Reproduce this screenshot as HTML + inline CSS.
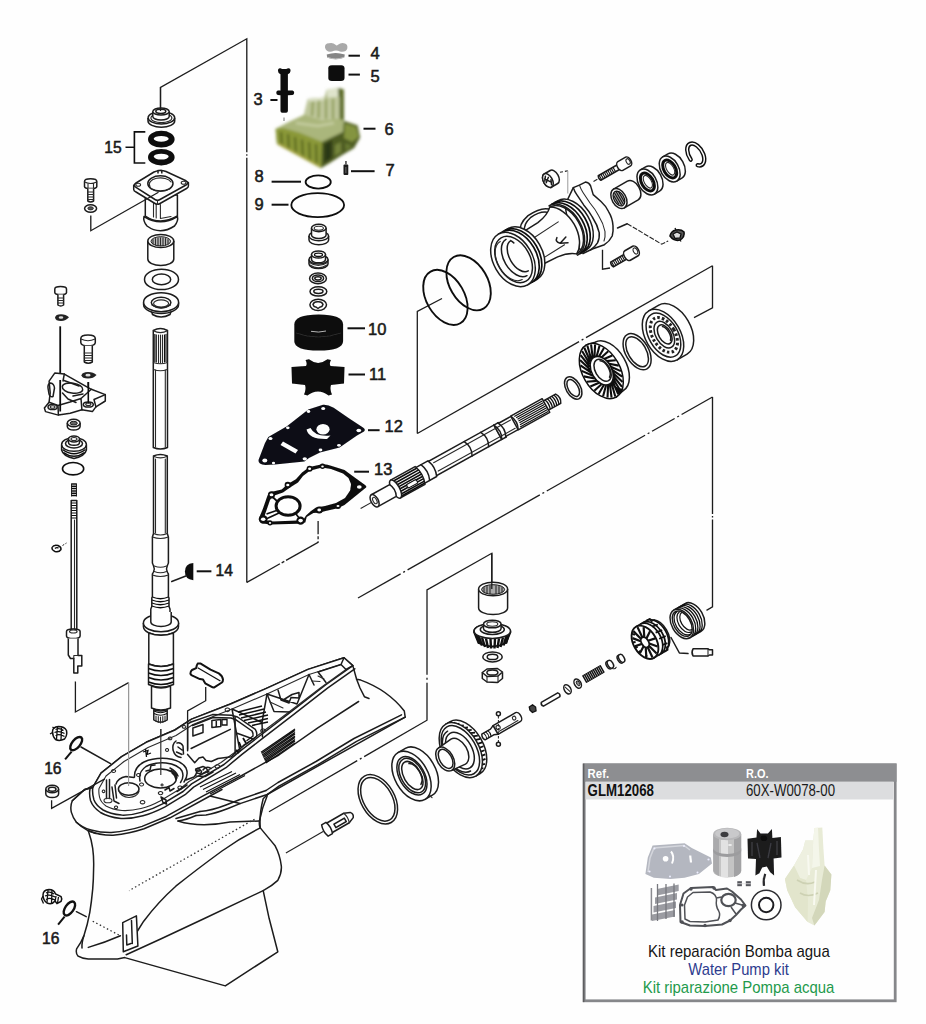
<!DOCTYPE html>
<html><head><meta charset="utf-8">
<style>
html,body{margin:0;padding:0;background:#fefefe;}
body{width:926px;height:1024px;overflow:hidden;position:relative;font-family:"Liberation Sans",sans-serif;}
svg{position:absolute;left:0;top:0;}
.l{fill:none;stroke:#1c1c1c;stroke-width:1.5;stroke-linecap:round;stroke-linejoin:round;}
.t{fill:none;stroke:#2a2a2a;stroke-width:1.1;stroke-linecap:round;stroke-linejoin:round;}
.w{fill:#fefefe;stroke:#1c1c1c;stroke-width:1.5;stroke-linejoin:round;}
.k{fill:#0a0a0a;stroke:none;}
.lab{font-family:"Liberation Sans",sans-serif;font-weight:normal;font-size:16.5px;fill:#1a1a1a;stroke:#1a1a1a;stroke-width:0.55px;}
.lab2{font-size:15.6px;}
.dash{fill:none;stroke:#111;stroke-width:2;}
.br{fill:none;stroke:#1c1c1c;stroke-width:1.3;stroke-linejoin:miter;}
</style></head><body>
<svg width="926" height="1024" viewBox="0 0 926 1024">
<defs>
<filter id="b1" x="-10%" y="-10%" width="120%" height="120%"><feGaussianBlur stdDeviation="1.5"/></filter>
<filter id="soft" x="0" y="0" width="100%" height="100%" filterUnits="userSpaceOnUse"><feGaussianBlur stdDeviation="0.33"/></filter>
<filter id="b05" x="-10%" y="-10%" width="120%" height="120%"><feGaussianBlur stdDeviation="0.6"/></filter>
</defs>
<g filter="url(#soft)">
<!-- BRACKETS -->
<g id="brackets">
<path class="br" d="M160.5 112V87.4L246.8 38.8V582.4" stroke-dasharray="237 2 1.500 2 1000"/>
<path class="br" d="M246.8 582.4L318.1 542.4V521" stroke-dasharray="38 2 3 2"/>
<path class="br" d="M442 298.5L417.3 311.400V433.500"/>
<path class="br" d="M417.300 433.500L712.500 265.800" stroke-dasharray="186 3 2 3 400"/>
<path class="br" d="M712.500 265.800V307.900L694 317.600"/>
<path class="br" d="M358 598L712.500 397" stroke-dasharray="49 3 2 3 152 3 2 3 113 3 2 3 26 3 2 3 100"/>
<path class="br" d="M712.500 397V606.800L706.500 610.400" stroke-dasharray="117 2 1.500 2 300"/>
<path class="br" d="M491.8 585V553.3L427 590V720.2L269 811.8" stroke-dasharray="191 3 2 3 110 3 2 3 400"/>
</g>
<!--PUMP COLUMN-->
<g id="pump">
<!--4 nut gray-->
<g filter="url(#b05)">
<path d="M325 47.500 Q324.500 43.500 329 43.300 Q333 42.300 335.500 44.800 Q336.500 46 338 44.800 Q341 42.300 345 43.500 Q348 44.500 347.300 48.500 Q346 52.500 340 51.500 Q336 49.500 332 51.500 Q326 52.500 325 47.500Z" fill="#a9a9a9"/>
<path d="M326.700 54.500 Q335.500 51.500 344.800 54.500 L344.300 57.500 Q335.500 61 327.200 57.500Z" fill="#858585"/>
<path d="M327.500 57.300 Q335.500 60.500 344 57.300" fill="none" stroke="#c0c0c0" stroke-width="1"/>
</g>
<!--5 black-->
<rect x="328.3" y="65.3" width="16.2" height="15.8" rx="3.500" ry="3" class="k"/>
<!--3 bolt-->
<path class="k" d="M278 71 Q277.800 68 280.300 68.200 L282.200 69 L286.200 69 L288.200 68.200 Q290.700 68 290.500 71 Q290.300 73.800 287.900 74.200 L287.900 90.400 L292.500 90.600 Q294.200 91 294.200 92.800 Q294.200 94.800 292.500 95.100 L287.900 95.300 L287.900 111 Q287.900 112.700 286 112.700 L282.200 112.700 Q280.500 112.700 280.500 111 L280.500 95.300 L277.800 95.100 Q276.300 94.700 276.300 92.800 Q276.300 91 277.800 90.600 L280.500 90.400 L280.500 74.200 Q278.200 73.800 278 71Z"/>
<path d="M284 117.500V121" stroke="#555" stroke-width="0.800"/>
<!--6 housing green-->
<g filter="url(#b1)">
<path d="M275.600 129 L290 121.500 L304 115 L308 99 L325 97.500 L326.500 90 L338 88 L343.800 89.500 L344 121 L357.500 125.500 L360 137.500 L354 148 L342 155 L329.500 163 L321 168 L277 144Z" fill="#8a9a44"/>
<!-- tower -->
<path d="M326.500 90 L338 88 L339.500 97 L327 99Z" fill="#dfe4cc"/>
<path d="M338 88 L343.800 89.500 L344 121 L339.300 118Z" fill="#5d6d2a"/>
<path d="M308 99 L325 97.500 L339.500 97 L339.500 119 L322 121 L310 117 L304 115Z" fill="#bfc79c"/>
<path d="M313 100 L312 116 M319 99 L318.500 118 M326 99 L326 119 M333 98.500 L333 119" stroke="#8e9d55" stroke-width="2.200" fill="none"/>
<path d="M309 100.500 L324 99" stroke="#e3e8d0" stroke-width="2"/>
<!-- upper surface of base -->
<path d="M290 121.500 L304 115 L310 117 L322 121 L339.500 119 L344 121 L343 132 L322 142 L300 133 L283 128 L275.600 129Z" fill="#aab67c"/>
<path d="M296 123 L318 126 L334 123" stroke="#c5cda0" stroke-width="2.500" fill="none"/>
<!-- front face -->
<path d="M275.600 129 L283 128 L300 133 L322 142 L321 168 L277 144Z" fill="#8b9938"/>
<path d="M281 132 L282 146 M288 134 L289 150 M295 137 L296 154 M302 139.500 L303 158 M309 142 L310 161 M316 144 L316.500 164" stroke="#5c6b22" stroke-width="2.400" fill="none"/>
<path d="M278 143.500 L320 166.500" stroke="#a5a542" stroke-width="2" fill="none"/>
<!-- right side -->
<path d="M322 142 L343 132 L344 121 L357.500 125.500 L360 137.500 L354 148 L342 155 L329.500 163 L321 168Z" fill="#4d5c22"/>
<path d="M345 123.500 L356 127 L358.500 137 L352 142 L344 138Z" fill="#84943f"/>
<path d="M324 144 L332 140 L332 158 L324 163Z" fill="#2c3812"/>
<path d="M335 145 L341 142 L341 152 L335 156Z" fill="#74843a"/>
<path d="M345 143 L352 146 L346 151Z" fill="#697a32"/>
</g>
<!--7 pin-->
<rect x="343.500" y="164.500" width="4.800" height="10.500" rx="1" fill="#1a1a1a"/>
<rect x="345.300" y="161" width="1.300" height="3.500" fill="#222"/>
<rect x="345.300" y="167" width="1.100" height="6" fill="#666"/>
<!--8,9 orings-->
<ellipse cx="318.2" cy="182" rx="12.600" ry="6.600" fill="none" stroke="#111" stroke-width="1.800"/>
<ellipse cx="317.7" cy="205.1" rx="26.400" ry="12" fill="none" stroke="#111" stroke-width="1.800"/>
<!--bushing1-->
<g stroke-width="1.900">
<path class="w" d="M309 236 V240 A9.800 4.800 0 0 0 328.600 240 V236" stroke-width="1.900"/>
<ellipse class="w" cx="318.8" cy="236" rx="9.800" ry="4.800" stroke-width="1.900"/>
<path class="w" d="M311.500 228 V235 A7.300 3.500 0 0 0 326.100 235 V228" stroke-width="1.900"/>
<ellipse class="w" cx="318.8" cy="228" rx="7.300" ry="3.700" stroke-width="1.900"/>
<ellipse class="t" cx="318.8" cy="228.300" rx="4.600" ry="2" stroke-width="1.400"/>
</g>
<!--bushing2-->
<g>
<path class="w" d="M309 259.500 V264 A9.500 4.600 0 0 0 328 264 V259.500" stroke-width="2.200"/>
<ellipse class="w" cx="318.5" cy="259.500" rx="9.500" ry="4.600" stroke-width="2.200"/>
<path class="w" d="M311.500 254.500 V259.500 A7 3.300 0 0 0 325.500 259.500 V254.500" stroke-width="2"/>
<ellipse class="w" cx="318.500" cy="254.500" rx="7" ry="3.600" stroke-width="2.200"/>
<ellipse cx="318.500" cy="254.800" rx="4" ry="1.700" fill="#fefefe" stroke="#111" stroke-width="1.300"/>
<path class="t" d="M309.500 262.500 Q318 268.500 327.500 262.500 M310 265 Q318 270.500 327 265" stroke-width="1.700"/>
</g>
<!--washers-->
<ellipse class="w" cx="318" cy="278.400" rx="8.400" ry="5.300" stroke-width="1.800"/><ellipse class="w" cx="318" cy="278.300" rx="5.600" ry="3.300" stroke-width="1.300"/><ellipse class="w" cx="318" cy="278.300" rx="3.200" ry="1.600" stroke-width="1.200"/>
<ellipse class="w" cx="318.400" cy="291.400" rx="8.400" ry="4.700" stroke-width="2.200"/><ellipse class="w" cx="318.400" cy="291.300" rx="4.600" ry="2.100" stroke-width="1.800"/>
<ellipse class="w" cx="318.200" cy="304.800" rx="8.300" ry="5.600" stroke-width="2.200"/><path class="w" d="M313 304.500 Q314 301.500 318 301.800 Q322 301.500 323 304.500 Q322 307.500 320 307 L318 308.500 L316 307 Q314 307.500 313 304.500Z" stroke-width="1.700"/>
<!--10 cup black-->
<path class="k" d="M294.300 324.500 Q294.300 314.500 318.700 314.500 Q343.100 314.500 343.100 324.500 L343.100 341 Q343.100 350.600 318.700 350.600 Q294.300 350.600 294.300 341Z"/>
<path d="M311 331.300 Q318.500 333 326 331" stroke="#c8c8c8" stroke-width="0.900" fill="none"/>
<path d="M296 333 Q318 341 341 333" stroke="#2c2c2c" stroke-width="1" fill="none"/>
<!--11 impeller-->
<path class="k" d="M291.500 367 L306 366 Q307.500 363.500 305.500 360 L309 359.300 Q318 366.500 327.500 359.300 L331 360 Q329 363.500 330.500 366 L344.500 367 L344 383.500 L331 385 Q329.500 389 332 394.500 L328.500 395.500 Q318 387.500 307.500 395.500 L304 394.500 Q306.500 389 305 385 L292 383.500Z"/>
<!--12 plate-->
<path fill="#0a0c14" d="M323 404.800 Q327.500 404.300 333.700 407.700 L349.300 418.400 L363 427.500 Q366 429.500 364 431.500 L357 435.500 L339.600 447.500 L320 452.500 L309 458 L304.400 461.500 L275 464.500 L265.400 465 Q258 464.500 258.500 460 L265 443 L268.300 437 L286.900 426.200 L308.300 409.600Z"/>
<g fill="#fefefe">
<ellipse cx="323.200" cy="408.500" rx="2" ry="1.500"/><ellipse cx="308.500" cy="411.500" rx="1.800" ry="1.400"/><ellipse cx="287.800" cy="427.800" rx="1.800" ry="1.400"/><ellipse cx="270.500" cy="438.500" rx="2" ry="1.500"/><ellipse cx="264.800" cy="460.500" rx="2.500" ry="1.900"/><ellipse cx="273.500" cy="463" rx="1.600" ry="1.200"/><ellipse cx="304.800" cy="458.800" rx="2.200" ry="1.600"/><ellipse cx="320.500" cy="450" rx="1.900" ry="1.400"/><ellipse cx="339" cy="445.300" rx="1.900" ry="1.400"/><ellipse cx="358.800" cy="430.500" rx="2.400" ry="1.800"/>
<ellipse cx="323" cy="429.300" rx="6.600" ry="5.300"/>
<path d="M306.500 429.500 Q309 439.500 327 439 L330.500 435.500 Q315 437 310.500 428Z"/>
<path d="M283 441.500 L298 450 L295.500 453.500 L280.500 445Z"/>
</g>
<!--13 gasket-->
<path d="M322.200 464.200 Q327 463.800 331 465.800 L344.500 469.900 L349.900 473.900 L364.700 484.700 Q367 486.200 366.100 487.400 L344.500 505 L337.700 508.300 L325.600 511 L320.200 512.400 L313.400 513 L306.700 517.100 L305.300 522.500 L298.600 523.800 L270.200 524.500 L261.500 523.200 Q258 521 258.800 518.400 L262.800 509 L267.500 495.500 L270.900 492.100 L281.700 489.400 L287.800 484 L295.900 479.300 L302 472.500 L309.400 467.100Z
M309.800 470.700 L322 467.600 L331 469 L343 473.500 L348.500 478 L351 484 L350.500 490 L345 498 L336 503 L325 506 L316 507.500 L311 511 L306 515.500 L303.500 519.500 L298 520.500 L272 521.500 L266 520 L264.500 516 L270 500 L273 496 L283 492.500 L290 487.500 L298 482.500 L303 476Z" fill="#0c0c0c" fill-rule="evenodd"/>
<path d="M352 477.500 L364.500 486.500 L346 501.500 L350.500 490 Z" fill="#0c0c0c"/>
<g fill="#0c0c0c"><circle cx="309.600" cy="468.700" r="3"/><circle cx="322.500" cy="466.300" r="2.700"/><circle cx="287.800" cy="485" r="3.200"/><circle cx="271.500" cy="494.800" r="3.600"/><circle cx="263.200" cy="519.300" r="4.200"/><circle cx="270" cy="522.800" r="2.600"/><circle cx="300.600" cy="520.600" r="4.200"/><circle cx="319.200" cy="510" r="3.600"/><circle cx="338" cy="506" r="3"/></g>
<ellipse cx="288.100" cy="506" rx="12" ry="9.300" fill="none" stroke="#0c0c0c" stroke-width="3"/>
<path d="M277.500 501.500 L272 496.500 M279 513 L266 519 M296 514 L299.500 518.500 M278 510 L266.500 514" stroke="#0c0c0c" stroke-width="1.700" fill="none"/>
<g fill="#fefefe"><ellipse cx="309.600" cy="468.800" rx="1.500" ry="1.200"/><ellipse cx="322.500" cy="466.400" rx="1.300" ry="1"/><ellipse cx="287.800" cy="485" rx="1.600" ry="1.200"/><ellipse cx="271.500" cy="494.800" rx="1.900" ry="1.500"/><ellipse cx="263.200" cy="519.300" rx="2.300" ry="1.800"/><ellipse cx="270" cy="522.900" rx="1.200" ry="0.900"/><ellipse cx="300.600" cy="520.600" rx="2.300" ry="1.800"/><ellipse cx="319.200" cy="510" rx="1.900" ry="1.400"/><ellipse cx="338" cy="506" rx="1.500" ry="1.100"/><ellipse cx="359.300" cy="487" rx="2.400" ry="1.800"/></g>
</g>
<!--LEFT COLUMN-->
<g id="leftcol">
<!--cap-->
<path class="w" d="M148 118 V121 A13.300 6.200 0 0 0 174.700 121 V118"/>
<ellipse class="w" cx="161.4" cy="117.8" rx="13.300" ry="6.200"/>
<ellipse class="t" cx="161.4" cy="118" rx="10.500" ry="4.600"/>
<path class="w" d="M152.800 111.500 V116.500 A8.200 3.500 0 0 0 169.200 116.500 V111.500"/>
<ellipse class="w" cx="161" cy="111.500" rx="8.200" ry="3.600"/>
<ellipse class="w" cx="160.800" cy="111.300" rx="5" ry="2.100"/>
<path class="br" d="M160.500 111V87"/>
<!--15 orings-->
<path class="k" fill-rule="evenodd" d="M148 139.200 A13.300 8.400 0 1 0 174.600 139.200 A13.300 8.400 0 1 0 148 139.200Z M153.700 138.800 A7.500 2.900 0 1 1 168.700 138.800 A7.500 2.900 0 1 1 153.700 138.800Z"/>
<path class="k" fill-rule="evenodd" d="M148 157.200 A13.300 8.300 0 1 0 174.600 157.200 A13.300 8.300 0 1 0 148 157.200Z M153.700 156.600 A7.500 2.900 0 1 1 168.700 156.600 A7.500 2.900 0 1 1 153.700 156.600Z"/>
<path d="M145.300 131.900H134.400V163H145.300M134.400 147.200H125.500" fill="none" stroke="#111" stroke-width="1.600"/>
<!--housing-->
<g>
<path class="w" d="M145.300 195 V216 Q160 226 177.400 216 V195Z"/>
<path class="w" d="M144 216.500 Q142.800 221 147 226 Q160 235.500 174.500 226 Q178.600 221 177.400 216.500 Q160.500 227 144 216.500Z"/>
<path class="t" d="M153.500 200V217M156.200 201V218M160.400 204.500V218.500M160.400 218.500L171 216.500"/>
<path class="w" d="M133.700 185.300 V189.400 Q133.700 191 136 192 L155 203.500 Q157.600 205 160 203.500 L186.500 188.500 Q188.400 187.500 188.400 186 V182.500Z"/>
<path class="w" d="M136 183 Q132.500 185.300 136 187.300 L155 199.500 Q157.600 201 160 199.500 L186 185 Q189.500 182.800 186 180.800 L166 171.500 Q160 169.300 154 172Z"/>
<path class="t" d="M157.500 201V204.500"/>
<ellipse class="t" cx="138.200" cy="184.800" rx="2.400" ry="1.500"/><ellipse class="t" cx="183.600" cy="182.700" rx="2.400" ry="1.500"/>
<ellipse class="w" cx="160.400" cy="183.400" rx="12.600" ry="7.600" stroke-width="1.400"/>
<path class="t" d="M150 186.500 A10.500 6 0 0 1 171 182 "/>
<path class="t" d="M150.500 188.500 Q160 194.500 170.500 188.500" stroke-width="1.500"/>
<path d="M158 173.500 V170.500 H161.800 V173.500" class="w" stroke-width="1.500"/>
</g>
<path class="br" d="M90.800 215.500V230.700L158.500 192.200"/>
<!--bolt upper-left-->
<g>
<path class="w" d="M84.500 181.500 Q84.500 178.800 90.600 178.800 Q96.800 178.800 96.800 181.500 V186.500 Q96.800 188.600 90.600 188.600 Q84.500 188.600 84.500 186.500Z" stroke-width="1.500"/>
<path class="t" d="M84.700 182 Q90.600 185 96.600 182 M88 184V188.300M93.500 184V188.300"/>
<path class="w" d="M87.800 188.600 V201 Q90.600 202.800 93.600 201 V188.600" stroke-width="1.400"/>
<path class="t" d="M87.800 192H93.600M87.800 194.500H93.600M87.800 197H93.600M87.800 199.500H93.600" stroke-width="1.200"/>
<ellipse class="w" cx="90.600" cy="208.500" rx="6" ry="3.800" stroke-width="1.600"/><ellipse cx="90.600" cy="208.300" rx="2.800" ry="1.600" fill="#555" stroke="#111" stroke-width="0.800"/>
</g>
<!--bearing sleeve-->
<g>
<path class="w" d="M147.800 241 V259 A13 6.500 0 0 0 173.800 259 V241"/>
<ellipse class="w" cx="160.800" cy="241" rx="13" ry="6.600"/>
<ellipse cx="160.800" cy="241.300" rx="9.800" ry="4.600" fill="#bbb" stroke="#222" stroke-width="1"/>
<path class="t" d="M153 239.500V244M155.500 238.500V245M158 238V245.500M160.500 237.800V245.700M163 238V245.500M165.500 238.500V245M168 239.500V244"/>
</g>
<!--washer-->
<ellipse class="w" cx="161.500" cy="279.400" rx="17" ry="10.200"/><ellipse class="w" cx="161.500" cy="279.400" rx="9.200" ry="5.400"/>
<!--seal-->
<g>
<path class="w" d="M150.500 308 L152.500 314.500 Q161 319.500 170 314.500 L172 308"/>
<path class="w" d="M143.600 302.500 V304.500 A17.500 9 0 0 0 178.600 304.500 V302.500"/>
<ellipse class="w" cx="161.100" cy="302.200" rx="17.500" ry="9.500"/>
<ellipse class="w" cx="161.100" cy="302.500" rx="9.800" ry="5.200"/>
<ellipse class="t" cx="161.100" cy="303.500" rx="7.500" ry="3.600"/>
<path class="t" d="M152 305 Q161 311.500 170.500 305"/>
</g>
<!--shaft upper-->
<g>
<path class="w" d="M153.300 330.500 Q160.400 326.500 167.500 330.500 V447.500 Q160.400 450.500 153.300 447.500Z"/>
<path class="t" d="M153.300 330.800 Q160.400 334.500 167.500 330.800"/>
<path d="M154.800 334V362M156.300 334.500V362.500M164.500 334.500V362.500M166 334V362" stroke="#111" stroke-width="1.100" fill="none"/>
<path class="t" d="M158.500 335V362.500M160.500 335V363M162.500 335V362.500"/>
<path class="t" d="M153.300 362.500 Q160.400 365 167.500 362.500M153.500 369.500 Q160.400 372 167.300 369.500"/>
<path class="t" d="M155.500 370V447M165.300 370V447" stroke-width="0.700" stroke="#777"/>
</g>
<!--shaft lower-->
<g>
<path class="w" d="M153.500 456 Q160.400 453 167.300 456 V533.500 L168.400 537 V563 Q167 566 166.500 569 Q167 572 168.400 574 V596.500 L169 598 V606.500 L170 609 V618 H150.800 V609 L151.800 606.500 V598 L152.400 596.500 V574 Q153.800 572 154.300 569 Q153.800 566 152.400 563 V537 L153.500 533.500Z"/>
<path class="t" d="M153.500 456.300 Q160.400 459.500 167.300 456.300"/>
<path class="t" d="M155.500 459V533M165.300 459V533" stroke="#777" stroke-width="0.700"/>
<path class="t" d="M153.500 533.500 Q160.400 536.500 167.300 533.500M152.400 537 Q160.400 540 168.400 537M154.300 566 Q160.400 568.500 166.500 566M154.300 571.500 Q160.400 574 166.500 571.500M152.400 575 Q160.400 578 168.400 575"/>
<path d="M152.400 597 Q160.400 600.500 168.400 597M151.800 600 Q160.400 603.500 169 600M151.800 603 Q160.400 606.500 169 603M151.800 606 Q160.400 609.500 169 606" stroke="#111" stroke-width="1.300" fill="none"/>
<path class="w" d="M143.400 623 V626.500 A17.500 8.800 0 0 0 178.500 626.500 V623"/>
<ellipse class="w" cx="161" cy="623" rx="17.600" ry="8.800"/>
<path class="w" d="M150.800 612 V622 A10.200 4.500 0 0 0 171.200 622 V612"/>
<path class="w" d="M148.800 633 V664 Q161 669 173.400 664 V633 Q161 637.500 148.800 633Z"/>
<path class="w" d="M148.500 664 V684.500 Q161 690 173.500 684.500 V664 Q161 669 148.500 664Z"/>
<path d="M148.500 668.500 Q161 673.500 173.500 668.500M148.500 673 Q161 678 173.500 673M148.500 677.500 Q161 682.500 173.500 677.500M148.500 682 Q161 687 173.500 682" stroke="#111" stroke-width="1.600" fill="none"/>
<path class="w" d="M151.500 686 V708 Q161 712 170.500 708 V686 Q161 690 151.500 686Z"/>
<path class="w" d="M153.800 709.500 V720 Q160.500 724.500 167.200 720 V709.500 Q160.500 712.500 153.800 709.500Z"/>
<path d="M154 711 Q160.500 714.500 167 711M154 713.500 Q160.500 717 167 713.500" stroke="#111" stroke-width="1.200" fill="none"/>
<path class="t" d="M156 716V721.500M158.300 716.500V722.500M160.500 717V723M162.800 716.500V722.500M165 716V721.500"/>
<path d="M160.800 729V774.500" stroke="#333" stroke-width="1.200"/>
</g>
<!--14-->
<path class="k" d="M193.300 562.900 V580.300 Q184.900 579.500 184.900 571.600 Q184.900 563.700 193.300 562.900Z"/>
<path class="l" d="M171.700 581.500L186.500 575.800" stroke-width="1"/>
<!--left bolts / bracket-->
<g>
<path class="w" d="M54.800 289 Q54.800 286.500 60.600 286.500 Q66.500 286.500 66.500 289 V292.500 Q66.500 294.600 60.600 294.600 Q54.800 294.600 54.800 292.500Z" stroke-width="1.500"/>
<path class="w" d="M57.900 294.600 V305 Q60.700 307 63.600 305 V294.600" stroke-width="1.400"/>
<path class="t" d="M57.900 298H63.600M57.900 300.500H63.600M57.900 303H63.600" stroke-width="1.100"/>
<path d="M55 317.500 Q55.500 314.300 61 314.200 Q66 314.200 69 317.300 Q66 321 61 321 Q55.500 321 55 317.500Z" fill="#222"/><ellipse cx="61" cy="317.500" rx="2.300" ry="1.300" fill="#ddd"/>
<path d="M60.200 326.300V411" stroke="#111" stroke-width="1.800"/>
<path class="w" d="M80.800 338.500 Q80.800 335 88 335 Q95.300 335 95.300 338.500 V342.500 Q95.300 345.800 88 345.800 Q80.800 345.800 80.800 342.500Z" stroke-width="1.600"/>
<path class="t" d="M81 339 Q88 342.500 95 339"/>
<path class="w" d="M84.300 345.800 V362 Q88.300 364.500 92.300 362 V345.800" stroke-width="1.500"/>
<path class="t" d="M84.300 353H92.300M84.300 355.500H92.300M84.300 358H92.300M84.300 360.500H92.300" stroke-width="1.200"/>
<path d="M81.500 375.200 Q82 372.200 88 372 Q93.500 372 96.500 375 Q93.500 378.500 88 378.500 Q82 378.500 81.500 375.200Z" fill="#222"/><ellipse cx="88" cy="375.200" rx="2.600" ry="1.400" fill="#ddd"/>
<path d="M88.300 382V403" stroke="#111" stroke-width="1.600"/>
</g>
<!--shift bracket-->
<g>
<path class="w" d="M44.400 408 L49.100 402.200 L50.200 392.800 L49.100 381.100 L54.900 372.900 L64.300 374.100 L91.300 389.300 L105.300 394.600 V401 L95.900 406.900 L92.400 411.600 L81.900 409.800 L70.200 413.300 L58.400 415.100 L45.500 411.600Z" stroke-width="1.500"/>
<path class="l" d="M49.100 402.200 L58 405.500 L70 402 L81 398.500 L91.300 389.300M58 405.500 L58.400 415M81 398.500 L81.900 409.800M95.900 406.900 L94 399.500 L105.300 394.600"/>
<ellipse class="w" cx="72.500" cy="388.100" rx="10.300" ry="5" transform="rotate(8 72.500 388.100)" stroke-width="1.500"/>
<path class="l" d="M63 381 L64.300 374.100 M64 380.500 L79 386 M62.500 393 L68 399 L76 402.500 M73 396 L83 394"/>
<path class="l" d="M50.500 383 Q47.500 384 48 388 L49 394 Q50 397.500 53 396.500 L54.500 388 Q54 383.500 50.500 383Z" stroke-width="1.500"/>
<ellipse class="w" cx="52.600" cy="407" rx="4.600" ry="2.600"/><ellipse class="t" cx="52.600" cy="407" rx="2.400" ry="1.300"/>
<ellipse class="w" cx="88.300" cy="404.500" rx="5" ry="2.600"/><ellipse class="t" cx="88.300" cy="404.300" rx="2.600" ry="1.300"/>
<path d="M60.200 380V411.500" stroke="#111" stroke-width="1.800"/><path d="M88.300 382V403.500" stroke="#111" stroke-width="1.600"/>
</g>
<!--small seal-->
<path class="w" d="M67.300 423 V426.500 A6.400 3.600 0 0 0 80.100 426.500 V423" stroke-width="1.500"/><ellipse class="w" cx="73.700" cy="423" rx="6.400" ry="3.700" stroke-width="1.500"/><ellipse cx="73.700" cy="423.200" rx="3.600" ry="1.900" fill="#666" stroke="#111" stroke-width="0.900"/>
<!--cup-->
<g>
<path class="w" d="M61.600 445 V450 Q63 456 74 458.500 Q85 456 86.400 450 V445" stroke-width="1.500"/>
<path d="M62.500 449.500 Q74 458 85.500 449.500M63.500 452.500 Q74 460 84.500 452.500" stroke="#111" stroke-width="1.500" fill="none"/>
<ellipse class="w" cx="74" cy="444.500" rx="12.400" ry="6.800" stroke-width="1.500"/>
<ellipse class="w" cx="74" cy="443.500" rx="8.500" ry="4.500"/>
<path class="w" d="M68.500 439 V442.500 A5.500 2.800 0 0 0 79.500 442.500 V439"/><ellipse class="w" cx="74" cy="439" rx="5.500" ry="2.900"/><ellipse class="t" cx="74" cy="439" rx="3" ry="1.500"/>
</g>
<ellipse cx="73.100" cy="468.700" rx="10.600" ry="6.200" fill="none" stroke="#111" stroke-width="1.600"/>
<!--shift rod-->
<g>
<path d="M71.500 484H76.500M71.500 486.300H76.500M71.500 488.600H76.500M71.500 490.900H76.500M71.500 493.200H76.500M71.500 495.500H76.500" stroke="#111" stroke-width="1.500"/>
<path d="M71.500 483.500V496.500M76.500 483.500V496.500" stroke="#111" stroke-width="0.900"/>
<path class="w" d="M71.200 500.500 H76.800 V629.500 H71.200Z" stroke-width="1.100"/>
<path d="M71.200 503H76.800M71.200 505.500H76.800M71.200 508H76.800M71.200 510.500H76.800M71.200 513H76.800M71.200 515.500H76.800M71.200 518H76.800" stroke="#111" stroke-width="1.100"/>
<path class="t" d="M74.500 520V629"/>
<path class="w" d="M66.500 631.500 Q66.500 629 73.300 629 Q80.100 629 80.100 631.500 V636 Q80.100 638.500 73.300 638.500 Q66.500 638.500 66.500 636Z" stroke-width="1.500"/>
<ellipse class="t" cx="73.300" cy="631.500" rx="3.800" ry="1.500"/>
<path class="w" d="M68.300 638.500 V655 L70.500 658.500 H73.800 V673 H77.800 V666 H81.800 V655.500 H78 V638.500" stroke-width="1.400"/>
<path class="t" d="M73.800 658.500V655.500H78"/>
<path d="M52 547.500 Q53.500 544.500 58 545.500 Q61.500 547 61 549.500 Q59 552.500 55 551.500 Q51.500 550 52 547.500Z M55 548.500 Q56.500 547 58.500 548" fill="none" stroke="#111" stroke-width="1.400"/>
<path d="M62.500 545.500L66.500 543" stroke="#222" stroke-width="1" stroke-dasharray="2 1.500"/>
</g>
<path class="br" d="M75.400 681.500V712L128.600 682.600"/>
<path d="M128.600 682.600V784" stroke="#888" stroke-width="1"/>
</g>
<!--UPPER RIGHT: bearing housing axis-->
<g id="upright">
<!--orings-->
<g transform="translate(468.6 282.8) rotate(-30)"><ellipse cx="0" cy="0" rx="19" ry="29.800" fill="none" stroke="#111" stroke-width="1.900"/></g>
<g transform="translate(445.4 297.4) rotate(-30)"><ellipse cx="0" cy="0" rx="19" ry="29.800" fill="#fefefe" fill-opacity="0" stroke="#111" stroke-width="1.900"/></g>
<!--housing: rear flange (global coords)-->
<path class="w" d="M573.300 187.600 L579.400 185.100 L585.400 182.100 Q589 182.500 590.600 185.900 L593.200 194.600 L601 201.500 Q606 206 608.700 211.800 Q612.500 218 613 225.700 Q613.500 231 612.200 236 Q609.500 241.500 604.400 244.700 L592.300 249 L583 253.500 L570 235 L565 205Z"/>
<path class="l" d="M573.300 187.600 Q574.500 191.500 576.800 194.600 L583.700 204.900 Q589 211 592.300 217 Q597.500 225 599.200 232.600 Q599.800 238.500 597.500 242.900 Q595 247 590.600 249.800"/>
<path class="t" d="M579.400 185.100 Q581 189.500 583 192.500 L590 203 Q595.500 209.500 598.500 215.500 Q603.500 223.500 605 231.500 Q605.500 237 604 241"/>
<g transform="translate(513 259.500) rotate(-30)">
<!--rear ring arcs-->
<path class="w" d="M58 -28.500 L68 -28.500 A18.500 28.500 0 0 1 68 28.500 L58 28.500 A18.500 28.500 0 0 0 58 -28.500Z"/>
<path d="M61 -28.500 A18.500 28.500 0 0 1 61 28.500 M64.500 -28.500 A18.500 28.500 0 0 1 64.500 28.500" fill="none" stroke="#111" stroke-width="1.700"/>
<!--neck-->
<path class="w" d="M8 -25 Q14 -19.500 24 -19 L40 -19.500 Q52 -21 58 -27 A18.500 28.500 0 0 1 58 27 Q52 21.500 40 20 L24 19 Q14 19.500 8 25Z"/>
<path class="l" d="M58 -27 A17.500 27 0 0 1 58 27"/>
<!-- window top -->
<path class="l" d="M20 -19 Q22 -28 35 -30.500 Q50 -31.500 56 -26 M24.500 -19 Q26.500 -25.500 36 -27.500 Q47 -28.500 53 -24"/>
<path class="t" d="M24 -8 L58 -10 M24 14 L52 13"/>
<path class="l" d="M49 3 Q45 5.500 49 9.500 L56 13 M49 9.500 L57 7"/>
<!--front ring-->
<path class="w" d="M0 -29.200 L11 -29.200 A19.500 29.200 0 0 1 11 29.200 L0 29.200Z"/>
<path d="M4.500 -29.200 A19.500 29.200 0 0 1 4.500 29.200 M7.500 -29.200 A19.500 29.200 0 0 1 7.500 29.200" fill="none" stroke="#111" stroke-width="1.700"/>
<ellipse class="w" cx="0" cy="0" rx="19.500" ry="29.200"/>
<ellipse class="l" cx="0.500" cy="0.300" rx="16.300" ry="25"/>
<path class="l" d="M4 -21 A12.500 21 0 0 0 4 21 M7.500 -17.500 A10 17.500 0 0 0 7.500 17.500 M7.500 -17.500 A10 17.500 0 0 1 9 -14" />
<path class="t" d="M-2 -22 A13.500 22 0 0 0 -2 22"/>
</g>
<!--plug-->
<g transform="translate(550.5 179) rotate(-30)">
<path class="w" d="M-3 -7.500 L4 -7.500 A4.500 7.500 0 0 1 4 7.500 L-3 7.500 A4.500 7.500 0 0 1 -3 -7.500Z" stroke-width="1.500"/>
<ellipse class="w" cx="-3" cy="0" rx="4.500" ry="7.500" stroke-width="1.400"/>
<path class="l" d="M-5 -3 L-1 3 M-5.500 1 L-1 -2.500 M-6 -1 L-3 -5 M-2 5.500 L0 1" stroke-width="1.500"/>
</g>
<path d="M560 172.300L567.800 170.800" stroke="#222" stroke-width="1.100" stroke-dasharray="3 2" fill="none"/>
<path d="M567.800 170.800V193.500" stroke="#999" stroke-width="1" fill="none"/>
<!--bolt 1-->
<g transform="translate(616 168.500) rotate(-30)">
<path class="w" d="M-19 -2.600 H5 V2.600 H-19 Q-20.500 0 -19 -2.600Z" stroke-width="1.200"/>
<path d="M-18 -2.600V2.600M-16 -2.600V2.600M-14 -2.600V2.600M-12 -2.600V2.600M-10 -2.600V2.600M-8 -2.600V2.600M-6 -2.600V2.600M-4 -2.600V2.600M-2 -2.600V2.600" stroke="#111" stroke-width="1.100"/>
<path class="w" d="M5 -5 H14 A3 5 0 0 1 14 5 H5 A3 5 0 0 1 5 -5Z" stroke-width="1.500"/>
<ellipse class="t" cx="14" cy="0" rx="1.800" ry="3"/>
<path d="M-21.500 0H-26" stroke="#222" stroke-width="1" />
</g>
<!--needle bearing-->
<g transform="translate(625 195) rotate(-30)">
<path class="w" d="M-7 -10.800 L9 -10.800 A7 10.800 0 0 1 9 10.800 L-7 10.800Z" stroke-width="1.500"/>
<ellipse class="w" cx="-7" cy="0" rx="7" ry="10.800" stroke-width="1.500"/>
<ellipse cx="-7" cy="0" rx="5" ry="8" fill="#999" stroke="#111" stroke-width="1.200"/>
<path d="M-10 -5V5M-8 -7V7M-6 -7.500V7.500M-4 -6V6" stroke="#111" stroke-width="1" fill="none"/>
</g>
<!--seal 1-->
<g transform="translate(650 180.500) rotate(-30)">
<path class="w" d="M-3 -14 L3 -14 A9 14 0 0 1 3 14 L-3 14Z" stroke-width="1.600"/>
<ellipse class="w" cx="-3" cy="0" rx="9" ry="14" stroke-width="1.600"/>
<ellipse cx="-3" cy="0" rx="5.800" ry="9.800" fill="#fefefe" stroke="#111" stroke-width="3"/>
<ellipse class="t" cx="-2.500" cy="0" rx="3.500" ry="7"/>
</g>
<!--seal 2-->
<g transform="translate(672.3 167.500) rotate(-30)">
<path class="w" d="M-3 -14 L3 -14 A9 14 0 0 1 3 14 L-3 14Z" stroke-width="1.600"/>
<ellipse class="w" cx="-3" cy="0" rx="9" ry="14" stroke-width="1.600"/>
<ellipse cx="-3" cy="0" rx="5.800" ry="9.800" fill="#fefefe" stroke="#111" stroke-width="3"/>
<ellipse class="t" cx="-2.500" cy="0" rx="3.500" ry="7"/>
</g>
<!--circlip-->
<g transform="translate(695.7 154.500) rotate(-30)">
<path d="M-3.600 10.300 A7 12 0 1 0 -6.900 1.900" fill="none" stroke="#111" stroke-width="4.400" stroke-linecap="round"/>
<path d="M-3.600 10.300 A7 12 0 1 0 -6.900 1.900" fill="none" stroke="#fefefe" stroke-width="1.500" stroke-linecap="round"/>
</g>
<!--zigzag + small part-->
<path class="l" d="M617.500 228L627.200 223.700" stroke-width="1.100"/>
<path d="M627.200 223.700L661.700 244.200L668.200 241" fill="none" stroke="#222" stroke-width="1.100" stroke-dasharray="5 1.500"/>
<g transform="translate(677 235)">
<path d="M-7 1 Q-6 -4 -1 -5 Q4 -6 7 -3 Q8 2 3 5 Q-3 6.500 -7 1Z" fill="#555" stroke="#111" stroke-width="1.600"/>
<path d="M-4 -1 L0 -3 L4 -1 L3 3 L-2 3.500Z M-1 -5 L-2 -7 M3 5 L4 6.500" fill="#ddd" stroke="#111" stroke-width="1.300"/>
</g>
<!--bolt 2-->
<g transform="translate(625 257) rotate(-30)">
<path class="w" d="M-15 -2.800 H3 V2.800 H-15 Q-16.500 0 -15 -2.800Z" stroke-width="1.200"/>
<path d="M-14 -2.800V2.800M-12 -2.800V2.800M-10 -2.800V2.800M-8 -2.800V2.800M-6 -2.800V2.800M-4 -2.800V2.800M-2 -2.800V2.800" stroke="#111" stroke-width="1.100"/>
<path class="w" d="M3 -5.500 H12 A3.300 5.500 0 0 1 12 5.500 H3 A3.300 5.500 0 0 1 3 -5.500Z" stroke-width="1.500"/>
<ellipse class="t" cx="12" cy="0" rx="2" ry="3.300"/>
</g>
<path class="br" d="M602.500 249.700V269.200L610 268"/>
</g>
<!--SECOND AXIS-->
<g id="axis2">
<!--big bearing-->
<g transform="translate(663 335.400) rotate(-30)">
<path class="w" d="M0 -28.300 L11.500 -28.300 A17.500 28.300 0 0 1 11.500 28.300 L0 28.300Z"/>
<ellipse class="w" cx="0" cy="0" rx="17.500" ry="28.300"/>
<ellipse class="l" cx="0.500" cy="0" rx="14.500" ry="24"/>
<ellipse cx="1" cy="0" rx="11.300" ry="19" fill="none" stroke="#222" stroke-width="3" stroke-dasharray="2.500 2.200"/>
<ellipse class="w" cx="1.500" cy="0" rx="8.500" ry="14.500"/>
<ellipse class="l" cx="2" cy="0" rx="6" ry="10.500" stroke-width="1.700"/>
<path class="l" d="M4 -8 A5 9 0 0 1 4 8"/>
</g>
<!--washer ring-->
<g transform="translate(637.100 351.700) rotate(-30)">
<ellipse class="w" cx="0" cy="0" rx="11.500" ry="19.800"/><ellipse class="w" cx="0" cy="0" rx="9" ry="16.500"/>
</g>
<!--reverse gear-->
<g transform="translate(601.300 371) rotate(-30)">
<path class="w" d="M0 -30 L9 -28 A17 28 0 0 1 9 28 L0 30Z" stroke-width="1.500"/>
<path d="M3 -26 L7 -20 M5 -22 L9 -15 M7 18 L3 26 M9 12 L6 21 M8 22 L3 29" stroke="#111" stroke-width="2"/>
<ellipse cx="0" cy="0" rx="18.600" ry="30" fill="#fefefe" stroke="#111" stroke-width="1.500"/>
<path d="M9.6 0.0L16.9 9.9M9.4 3.2L15.2 15.4M8.8 6.3L12.9 20.2M7.8 9.1L10.0 24.1M6.4 11.5L6.7 26.9M4.8 13.4L3.1 28.6M3.0 14.7L-0.6 29.0M1.0 15.4L-4.4 28.1M-1.0 15.4L-7.9 26.1M-3.0 14.7L-11.1 22.8M-4.8 13.4L-13.8 18.6M-6.4 11.5L-15.9 13.6M-7.8 9.1L-17.3 8.0M-8.8 6.3L-17.9 2.0M-9.4 3.2L-17.8 -4.1M-9.6 0.0L-16.9 -9.9M-9.4 -3.2L-15.2 -15.4M-8.8 -6.3L-12.9 -20.2M-7.8 -9.1L-10.0 -24.1M-6.4 -11.5L-6.7 -26.9M-4.8 -13.4L-3.1 -28.6M-3.0 -14.7L0.6 -29.0M-1.0 -15.4L4.4 -28.1M1.0 -15.4L7.9 -26.1M3.0 -14.7L11.1 -22.8M4.8 -13.4L13.8 -18.6M6.4 -11.5L15.9 -13.6M7.8 -9.1L17.3 -8.0M8.8 -6.3L17.9 -2.0M9.4 -3.2L17.8 4.1" stroke="#111" stroke-width="2.1" fill="none"/>
<path d="M4 20 L10 27 L3 29.500 Z" fill="#111"/>
<ellipse cx="0.500" cy="0" rx="10" ry="15.500" fill="#fefefe" stroke="#111" stroke-width="1.600"/>
<ellipse class="l" cx="1.500" cy="0" rx="7.200" ry="12"/>
<path class="l" d="M4 -9.500 A5.500 10 0 0 1 4 9.500"/>
</g>
<!--small washer-->
<g transform="translate(573.200 388) rotate(-30)">
<ellipse class="w" cx="0" cy="0" rx="7.200" ry="12.200" stroke-width="1.500"/><ellipse class="w" cx="0" cy="0" rx="5" ry="9.300" stroke-width="1.200"/>
</g>
<!--prop shaft-->
<g transform="translate(374.600 500.700) rotate(-29.050)">
<path d="M-16 0H-2" stroke="#222" stroke-width="1"/>
<!-- main -->
<path class="w" d="M66 -8.200 H141 V8.200 H66Z"/>
<path class="w" d="M141 -8.200 H146 V-7.500 H160 V7.500 H146 V8.200 H141Z"/>
<path class="t" d="M70 -4.500H158M70 5H158" stroke="#999" stroke-width="0.700"/>
<path class="l" d="M107 -8.200 Q111.500 0 107 8.200M126 -8.200 Q130.500 0 126 8.200M141 -8.200 Q145.500 0 141 8.200M145.500 -8.200 Q150 0 145.500 8.200"/>
<!-- right spline -->
<path class="w" d="M160 -7.800 H196 V7.800 H160 Q164 0 160 -7.800Z"/>
<path d="M163 -5.800H195M164 -3.800H195M164.500 -1.800H195M164.500 0.200H195M164.500 2.200H195M164 4.200H195M163 6.200H195" stroke="#111" stroke-width="1.200"/>
<!-- threaded tip -->
<path class="w" d="M196 -5.300 H210 Q213.500 0 210 5.300 H196Z"/>
<path d="M198 -5.300 Q200 0 198 5.300M200.500 -5.300 Q202.500 0 200.500 5.300M203 -5.300 Q205 0 203 5.300M205.500 -5.300 Q207.500 0 205.500 5.300M208 -5.300 Q210 0 208 5.300" stroke="#111" stroke-width="1.400" fill="none"/>
<!-- shoulder -->
<path class="w" d="M52 -9 H66 Q70 0 66 9 H52Z"/>
<path class="l" d="M58 -9 Q62 0 58 9"/>
<!-- left spline collar -->
<path class="w" d="M24 -10.200 H52 Q56 0 52 10.200 H24Z"/>
<path d="M25 -8H52.500M25 -5.500H53.500M25 -3H54M25 -0.500H54M25 2H54M25 4.500H53.500M25 7H53M25 9H52" stroke="#111" stroke-width="1.600"/>
<path d="M36 1.500 H46 Q47.500 3.500 46 5.500 H36 Q34.500 3.500 36 1.500Z" fill="#fefefe" stroke="#111" stroke-width="1"/>
<ellipse class="w" cx="24" cy="0" rx="4" ry="10.200"/>
<!-- stub -->
<path class="w" d="M0 -6.800 H21 Q24.500 0 21 6.800 H0Z"/>
<ellipse class="w" cx="0" cy="0" rx="3.600" ry="6.800" stroke-width="1.800"/>
<ellipse class="t" cx="0.300" cy="0" rx="1.800" ry="3.500"/>
</g>
</g>
</g>
<!--THIRD AXIS-->
<g id="axis3">
<!--sleeve bearing top-->
<g>
<path class="w" d="M478.600 589 V608 A14.500 6.500 0 0 0 507.600 608 V589"/>
<ellipse class="w" cx="493.100" cy="589" rx="14.500" ry="6.800"/>
<ellipse cx="493.100" cy="589.500" rx="11.500" ry="4.800" fill="#aaa" stroke="#111" stroke-width="1"/>
<path class="t" d="M484 587.500V592M487 586.500V593M490 586V593.500M496 586V593.500M499 586.500V593M502 587.500V592"/>
<path class="br" d="M491.8 553.3V589"/>
</g>
<!--pinion-->
<g>
<path d="M474 632 Q474 625 492.300 625 Q510.500 625 510.500 632 L506 643 Q492.300 650 478.500 643Z" fill="#fefefe" stroke="#111" stroke-width="1.900"/>
<path d="M475.500 633L479.500 643.500M478.500 635.500L482 645.500M482 637.500L485 647M486 638.500L488 648M490.500 639L491 648.500M495 639L494.500 648.500M499 638.500L497.500 648M503 637.500L500.500 647M506.500 635.500L503.500 645.500M509 633L506 643.500" stroke="#111" stroke-width="2.400"/>
<ellipse class="w" cx="492.300" cy="631" rx="18.200" ry="7.500" stroke-width="1.900"/>
<ellipse class="w" cx="492.300" cy="629.500" rx="12" ry="5"/>
<path class="w" d="M483.500 624 V628.500 A8.800 3.800 0 0 0 501.100 628.500 V624"/>
<ellipse class="w" cx="492.300" cy="624" rx="8.800" ry="3.800"/><ellipse class="t" cx="492.300" cy="624" rx="5.500" ry="2.200"/>
</g>
<ellipse class="w" cx="492.500" cy="656.900" rx="9.700" ry="5" stroke-width="1.900"/><ellipse class="w" cx="492.500" cy="656.900" rx="5.300" ry="2.600"/>
<!--nut-->
<g>
<path class="w" d="M482.300 672.500 V678.500 L487 682 L497.500 682.500 L502.500 678.500 V672.500" stroke-width="1.900"/>
<path class="w" d="M482.300 672.500 L487 669 L497.500 668.500 L502.500 672 L498 676 L487 676.500Z" stroke-width="1.900"/>
<ellipse class="w" cx="492.400" cy="672.500" rx="5.500" ry="2.600"/>
<path class="t" d="M487 676.500V682M498 676V682.500"/>
</g>
<!--spring-->
<g transform="translate(681.800 623.900) rotate(-30)">
<path class="w" d="M0 -16 L13 -16 A10 16 0 0 1 13 16 L0 16Z"/>
<path d="M2.500 -16 A10 16 0 0 1 2.500 16M5 -16 A10 16 0 0 1 5 16M7.500 -16 A10 16 0 0 1 7.500 16M10 -16 A10 16 0 0 1 10 16" fill="none" stroke="#111" stroke-width="1.300"/>
<ellipse class="w" cx="0" cy="0" rx="10" ry="16" stroke-width="1.500"/>
<ellipse class="l" cx="0.500" cy="0" rx="8.300" ry="13.800"/>
<path d="M2 -13 A8 13 0 0 0 2 13M4 -11.500 A7 11.500 0 0 0 4 11.500M6 -10 A6 10 0 0 0 6 10" fill="none" stroke="#111" stroke-width="1.200"/>
</g>
<!--clutch dog-->
<g transform="translate(645 642.300) rotate(-30)">
<path class="w" d="M0 -18 L16 -18 L16 -15 L19 -15 A11 17 0 0 1 19 15 L16 15 L16 18 L0 18Z" stroke-width="1.500"/>
<path d="M5 -18 A11.500 18 0 0 1 5 18M8 -18 A11.500 18 0 0 1 8 18M12 -18 A11.500 18 0 0 1 12 18" fill="none" stroke="#111" stroke-width="1.700"/>
<path d="M14 -10 L20 -9 M14 -3 L21 -2 M14 4 L21 5 M14 11 L19 12" stroke="#111" stroke-width="1.800"/>
<ellipse cx="0" cy="0" rx="11.500" ry="18" fill="#fefefe" stroke="#111" stroke-width="1.900"/>
<path d="M2.6 0.0L10.8 1.7M2.2 2.0L8.8 9.9M1.3 3.5L4.5 15.5M0.0 4.0L-1.1 16.9M-1.3 3.5L-6.4 13.8M-2.2 2.0L-9.9 7.0M-2.6 0.0L-10.8 -1.7M-2.2 -2.0L-8.8 -9.9M-1.3 -3.5L-4.5 -15.5M-0.0 -4.0L1.1 -16.9M1.3 -3.5L6.4 -13.8M2.2 -2.0L9.9 -7.0" stroke="#111" stroke-width="2.2" fill="none"/>
<ellipse cx="0" cy="0" rx="3.500" ry="5.500" fill="#fefefe" stroke="#111" stroke-width="1.700"/>
<path d="M-11 -6 L-8 -5 M-11.500 0 L-8.500 0 M-11 6 L-8 5 M-7 -14 L-5 -11.500 M-7 14 L-5 11.500" stroke="#111" stroke-width="2"/>
</g>
<path class="l" d="M671 637.500L679.400 653L688 653.600" stroke-width="1.200"/>
<path class="w" d="M693 648.800 H708 L709.500 649.800 H712.500 V655 H709.500 L708 656 H693 Q691 652.400 693 648.800Z" stroke-width="1.400"/>
<path class="t" d="M708 648.800V656"/>
<!--small parts-->
<g transform="translate(620.300 659.100) rotate(-30)"><ellipse class="w" cx="0" cy="0" rx="2.600" ry="4.300" stroke-width="1.800"/><ellipse class="w" cx="1.500" cy="0" rx="2.600" ry="4.300" stroke-width="1.300"/></g>
<g transform="translate(609.100 665) rotate(-30)"><ellipse class="w" cx="0" cy="0" rx="2.600" ry="4.300" stroke-width="1.800"/><ellipse class="w" cx="1.500" cy="0" rx="2.600" ry="4.300" stroke-width="1.300"/><path d="M1 4.500 Q3 7 5 5.500" class="t"/></g>
<g transform="translate(593.400 674) rotate(-30)">
<path d="M-10 -3.800 V3.800M-8 -3.800 V3.800M-6 -3.800 V3.800M-4 -3.800 V3.800M-2 -3.800 V3.800M0 -3.800 V3.800M2 -3.800 V3.800M4 -3.800 V3.800M6 -3.800 V3.800M8 -3.800 V3.800M10 -3.800 V3.800" stroke="#111" stroke-width="1.500"/>
<path d="M-10.500 -3.800 H10.500 M-10.500 3.800 H10.500" stroke="#111" stroke-width="0.900"/>
</g>
<g transform="translate(577.700 683.600) rotate(-30)"><ellipse class="w" cx="0" cy="0" rx="3.200" ry="5" stroke-width="2"/><ellipse cx="0.500" cy="0" rx="1.500" ry="2.800" fill="#888" stroke="#111" stroke-width="0.800"/></g>
<g transform="translate(567.500 689.300) rotate(-30)"><ellipse class="w" cx="0" cy="0" rx="3.200" ry="5" stroke-width="2"/><path d="M-1 -3 L1 3" class="t"/></g>
<g transform="translate(550.600 699.500) rotate(-30)"><path class="w" d="M-9.500 -2.200 H9.500 Q11.500 0 9.500 2.200 H-9.500 Q-11.500 0 -9.500 -2.200Z" stroke-width="1.600"/></g>
<g transform="translate(533 708.500) rotate(-30)"><path d="M-2.500 -3.200 L1.500 -3.500 L3 0 L1.500 3.500 L-2.500 3.200 L-3.500 0Z" fill="#444" stroke="#111" stroke-width="1.300"/></g>
<!--shifter-->
<g transform="translate(502.500 726) rotate(-30)">

<path class="w" d="M-8 -5 H18 A3 5 0 0 1 18 5 H-8Z" stroke-width="1.400"/>
<path class="w" d="M-22 -3.300 H-12 L-8 -5 V5 L-12 3.300 H-22 Q-24 0 -22 -3.300Z" stroke-width="1.400"/>
<path d="M-20 -3.300 Q-18.500 0 -20 3.300M-17.500 -3.300 Q-16 0 -17.500 3.300M-15 -3.300 Q-13.500 0 -15 3.300" stroke="#111" stroke-width="1.100" fill="none"/>
<ellipse class="t" cx="14" cy="-1" rx="1.700" ry="1.900"/><ellipse class="t" cx="-4.500" cy="-1" rx="2" ry="2.200"/>
<path class="t" d="M-6 3 H16"/>
</g>
<path d="M498.400 716V742" stroke="#222" stroke-width="1" stroke-dasharray="2.500 1.500"/><circle class="w" cx="498.400" cy="713.700" r="2" stroke-width="1.200"/><circle class="w" cx="498.400" cy="744.200" r="2" stroke-width="1.200"/>
<!--forward gear-->
<g transform="translate(460.800 750.100) rotate(-30)">
<path class="w" d="M0 -30 L5 -30 A18 30 0 0 1 5 30 L0 30Z" stroke-width="1.500"/>
<path d="M1 -29.500 L6.500 -29 M3 -28 L9 -26.500 M6 -25.500 L12 -23.500 M8.500 -22.500 L15 -20 M11 -19 L17.500 -16 M13 -15 L19.500 -12 M14.500 -11 L21 -8 M15.500 -6.500 L22 -4 M16 -2 L22.500 0 M16 2.500 L22.500 4 M15.500 7 L21.500 8 M14.500 11 L20.500 12 M13 15 L19 16 M11 19 L17 20 M8.500 22.500 L14 24 M6 25.500 L10.500 27 M3 28 L7 29" stroke="#111" stroke-width="1.800"/>
<ellipse class="w" cx="0" cy="0" rx="18" ry="30" stroke-width="1.500"/>
<ellipse class="l" cx="-0.500" cy="0" rx="15.800" ry="27"/>
<path class="l" d="M-2 -23 A14 23 0 0 0 -2 23" />
<ellipse class="l" cx="-1" cy="0" rx="12" ry="20"/>
<path class="w" d="M-18 -13 L-3 -14.500 A9 14.500 0 0 1 -3 14.500 L-18 13Z" stroke-width="1.400"/>
<ellipse class="w" cx="-18" cy="0" rx="8" ry="13" stroke-width="1.500"/>
<ellipse class="l" cx="-17.500" cy="0" rx="6" ry="10.500"/>
</g>
<!--bearing-->
<g transform="translate(411.500 776) rotate(-30)">
<path class="w" d="M0 -27 L8.500 -27 A16.500 27 0 0 1 8.500 27 L0 27Z"/>
<ellipse class="w" cx="0" cy="0" rx="16.500" ry="27"/>
<ellipse class="l" cx="0.500" cy="0" rx="12.500" ry="21"/>
<ellipse class="l" cx="0.800" cy="0" rx="11" ry="18.800"/>
<ellipse class="l" cx="1" cy="0" rx="8.500" ry="15.500" stroke-width="1.700"/>
<path class="l" d="M4 -12 A7 12.500 0 0 1 4 12"/>
<path class="t" d="M6 26 L7 29"/>
</g>
<!--shim ring-->
<g transform="translate(377.800 799.300) rotate(-30)">
<ellipse class="w" cx="0" cy="0" rx="16.800" ry="26.800" stroke-width="1.500"/><ellipse class="w" cx="0" cy="0" rx="14.300" ry="23.800" stroke-width="1.300"/>
</g>
<!--anode pin-->
<g transform="translate(339.600 822) rotate(-30)">
<path d="M-62 0H-19" stroke="#222" stroke-width="1.100"/>
<path class="w" d="M-14 -5.500 H8 L14 -3 Q16.500 0 14 3 L8 5.500 H-14Z" stroke-width="1.400"/>
<path class="w" d="M-17 -6.500 H-12 Q-9.500 0 -12 6.500 H-17 Q-19.500 0 -17 -6.500Z" stroke-width="1.400"/>
<path class="l" d="M-6 -1 H6 V3 H-6Z" stroke-width="1.100"/>
<path class="t" d="M8 -5.500 Q10 0 8 5.500"/>
</g>
</g>
<!--GEARCASE-->
<g id="gearcase">
<!-- lower body fill -->
<path class="w" d="M72.300 800.800 Q70 806 71.300 812.100 Q73 818 76.400 822.300 Q81 827 88.300 830.800 Q91.500 840 92.700 848.300 Q94 858 93.600 868.700 Q93.500 880 92.700 889.100 Q91.500 902 89.800 912.400 Q87.500 925 83.900 935.800 Q81 943 76.600 948.900 Q75.500 953.500 78.100 956.200 Q82 958.600 88.300 959.100 L117.500 959.100 L124.800 957.600 L225.300 985.900 L277.800 951.800 L269.100 918.300 L263.200 890.600 Q272 886 277.800 880.400 Q282 873 281.300 865.800 Q280 855 274.900 845.400 Q266 835 260.300 827.900 Q259 815 263.200 798.700 L268 794 L405.200 717.100 L404.300 711 Q388 690 360.800 680.100 L356.600 679.200 L352.800 665.600 L344 657.800 L308 669.400 L265.300 688.900 L230.500 704 L191.600 719.100 L174.900 730 L146.200 742.300 L121.600 756.700 L101 773.100 L92.800 787.400 L84.600 789.500Z" stroke-width="1.500"/>
<!-- cavitation plate near edge double line -->
<path class="l" d="M76.400 822.300 Q82 827.500 91 830 Q101 832.800 111.300 832.600 Q128 831 142.100 826.400 L166.700 816.200 L203.600 795.700 L240 776.500 L278.900 755 L317.800 727.800 L358.600 701.500"/>
<path class="l" d="M88.300 830.800 Q100 835.500 113 835.300 Q130 833.500 144 828.800 L170 817.800 L210 796 L240 803.600 M210 796 L222 789.500" stroke-width="0"/>
<path class="l" d="M268 794.200 L240 803.600 L228 808.500 Q215 813.500 206 815 L196 815.500 M266 790.500 L240 799.500 L226 805 Q212 810.500 200 811.500"/>
<path class="l" d="M405.200 717.100 L356.600 741.400 L317.800 764.700 L278.900 786.100 L268 794.200 M401.500 714.800 L354 738.500 L316 761.500 L278 782.500 L266 790.500"/>
<path class="l" d="M196 815.500 Q186 820 178 821 M200 811.500 L176 818.500" stroke-width="1.100"/>
<!-- plate far edge -->
<path class="l" d="M356.600 679.200 L360 688 L364.400 696.700 L369 698.500"/>
<!-- body trailing edge below plate -->
<path class="l" d="M267.200 795.800 Q262 808 259.400 821 Q259 826 260.300 827.900"/>
<!-- deck -->
<path class="w" d="M92.800 787.400 L101 773.100 L121.600 756.700 L146.200 742.300 L174.900 730 L191.600 719.100 L230.500 704 L265.300 688.900 L308 669.400 L344 657.800 L352.800 665.600 L325.500 685 L290.500 712.200 L256.400 738.500 L240 751.100 L224 764.500 L191.600 783.900 L183.100 791.500 L162.600 803.900 Q152 809.500 142.100 812.100 Q131 815.500 121.600 815.100 Q110 814 103.100 810 Q96 805.500 93.900 799.800 Q92 793 92.800 787.400Z" stroke-width="1.500"/>
<!-- deck second line (flange thickness) -->
<path class="l" d="M354.800 668.800 L327.500 688.200 L292.500 715.400 L258.400 741.700 L242 754.300 L226 767.700 L193.600 787.100 L185.100 794.700 L164.600 807.100 Q153 813 143 815.800 Q131 819 121 818.500 Q108 817 100.500 812.500 Q93 807.500 90.500 800.500 Q89 794 90 789"/>
<!-- deck inner flange line -->
<path class="t" d="M99 788.500 L106 776 L124 761.500 L148 747.500 L176 735.500 L193 724.500 L232 709 L267 694 L309 674.500 L341 664.500 M346 669.500 L321 687.500 L287 713.500 L253 739 L221 762.500 L189 781.500 L180 789 L160 801 Q150 806.500 141 808.500 Q131 811 122 810.500 Q112 809.500 106 806 Q100.500 802 99.500 797 Q98.500 792.500 99 788.500"/>
<!-- right end compartments -->
<path class="l" d="M344 657.800 L341 664.500 L346 669.500 L352.800 665.600 M341 664.500 L318 672 L326 682.500 M309 674.500 L314 685 M318 672 L322 677 M267 694 L274 711.500 L290 712 M267 694 L297 704 L309 674.500 M278 690 L281 700 L289 703 L291 697.500 L299 698 M284 699.500 L292 694.500 L299 692.500 L299 697"/>
<path class="t" d="M318 676 L324 679 M312 681 L320 681.500 M270 702 L283 708"/>
<!-- middle cavity -->
<path class="l" d="M232 709 L236.500 733 L253 739 M232 709 L262 722.500 L267 694 M262 722.500 L262.500 737 M236.500 733 L240 751.100"/>
<path d="M238 712 L262 706 M239 715 L264 709 M241 718 L266 712 M244 720.500 L268 715 M248 723 L268 718.500 M252 725.500 L268 722" stroke="#111" stroke-width="1.500"/>
<!-- vent slots -->
<path d="M261.0 752.2 L295 728.9 M261.6 753.5 L295 730.6 M262.2 754.9 L295 732.4 M262.8 756.2 L295 734.1 M263.4 757.6 L295 735.9 M264.0 758.9 L295 737.6 M264.6 760.2 L295 739.4 M265.2 761.6 L295 741.1 M265.8 762.9 L295 742.9 " stroke="#111" stroke-width="1.250" fill="none"/>
<path d="M200 787 L232 771.500 M203 789.500 L236 773 M206 792 L240 774.500 M210 794 L245 775.500" stroke="#111" stroke-width="1.100"/>
<!-- long cavity (water passage) -->
<path class="l" d="M190.500 722.300 L212.500 714.600 L231.500 715.200 L237.500 717 L255.300 729.400 Q257.500 733 256.500 736.600 L248.200 742.500" stroke-width="1.900"/>
<path class="l" d="M192.500 725.500 L213 717.500 L231 718 L236 719.800 L252 731 Q253.500 733.500 253 736 L247 740.500" stroke-width="1.500"/>
<path class="l" d="M187.600 750.800 V724 L190.500 722.300 M187.600 754.400 L194.700 762.700 L199 758 L203 757 L206 760.500 L211.300 761.500 L218 758.500 L222 758 L231.500 756.800 L236 752 L240 749 L244 745 L248.200 742.500"/>
<path class="l" d="M235.100 717.600 V753.200" stroke-width="1.500"/>
<path class="l" d="M191.100 748.500 L230.300 729.400" stroke-width="1.300"/>
<path class="l" d="M192.900 728 L203 724.500 V732.500 L192.900 736Z M211.900 720.500 L220.800 719.500 V726.500 L211.900 727.500Z M216.300 720 V727" stroke-width="1.500"/>
<path d="M222 719.500 H227 V725 H222Z" fill="none" stroke="#111" stroke-width="1.300"/>
<path d="M239 742 L241 747 M243 738 L246 743 M236 750 L239 753" stroke="#111" stroke-width="1.800"/>
<path class="t" d="M227.400 708 A2.300 1.800 0 1 0 227.500 708 M263 729 A2.300 1.800 0 1 0 263.100 729 M217.300 764.800 A2.300 1.700 0 1 0 217.400 764.800 M197.700 768.300 A2.300 1.700 0 1 0 197.800 768.300" stroke-width="1.300"/>
<path class="l" d="M203 770 Q206 765.500 211 768.500 M200 775 L209 771" stroke-width="1.200"/>
<!-- left small clip in cavity -->
<path class="l" d="M176 741 Q172 744 173 750 Q175 757 181 757.500 M177 743 Q181 742 183 746 L183.500 754 M178 747 L182 750 M176.500 752 L182 754.500" stroke-width="1.500"/>
<path class="t" d="M170 737 A1.800 1.400 0 1 0 170.100 737 M184 725.500 A1.800 1.400 0 1 0 184.100 725.500"/>
<!-- big bore -->
<path class="l" d="M134.500 777 Q134 767 144 762 Q154 757.500 167 758.500 Q181 760 186 768 Q189 775 184 782"/>
<path class="l" d="M140 781 Q138 772 146 766.500 Q155 762 166 763 Q178 764.500 182 771 Q184.500 777 180.500 782.500"/>
<ellipse class="w" cx="160.500" cy="778.500" rx="15.800" ry="9.400" stroke-width="1.500"/>
<path class="l" d="M146 771 L150 770 L151 765.500 L155 765 M170 768 Q176 771 178 776 M171 770.500 Q176 773.500 177 778 M172 773 Q175.500 775.500 176 779.500" stroke-width="1.200"/>
<path class="t" d="M138.500 773.500 A2 1.500 0 1 0 138.600 773.500 M141.500 783 A2 1.500 0 1 0 141.600 783 M160.500 791.500 A2.200 1.600 0 1 0 160.600 791.500 M180 786 A2.200 1.600 0 1 0 180.100 786 M113.500 769.500 A2 1.500 0 1 0 113.600 769.500 M167 748.500 A1.500 1.500 0 1 0 167.100 748.500"/>
<path class="l" d="M165 790 L169 787.500 L170 791 L174 788.500 M177 791.500 L187 785 M161 797 L166 800 L166.500 804 L163 802.500Z" stroke-width="1.200"/>
<path class="l" d="M186 780 L194 777 Q198 773 196 769 L203 766.500 Q208 768 208 773 M196 776 L205 776.500 L213 772 M199 770 A2.500 1.800 0 1 0 199.100 770" stroke-width="1.100"/>
<path d="M143 752 L148 750.500 L147 754.500 L151 753 M145.500 749 L146.500 757" stroke="#111" stroke-width="1.300" fill="none"/>
<!-- shift bore -->
<path class="l" d="M116 784 Q118 778 126 776.500 L134 777.500"/>
<ellipse class="w" cx="128.700" cy="789" rx="10.300" ry="6.200" stroke-width="1.500"/>
<path class="t" d="M119 791 Q121 797 129 797.500 Q137 797 139 791.500"/>
<path class="l" d="M106.500 780 V798.500 M109.500 779.500 V798.500 M112 787 L114 801 L119 803.500 M115 785 L116.500 798"/>
<ellipse class="t" cx="108" cy="800.500" rx="4" ry="2.300"/>
<path class="t" d="M103.500 790 A1.300 1.300 0 1 0 103.600 790 M116 806 A1.600 1.300 0 1 0 116.100 806 M142.500 800.500 A2.300 1.700 0 1 0 142.600 800.500 M162 784 A1 1 0 1 0 162.100 784"/>
<!-- lines into bores -->
<path d="M128.600 682.600V786" stroke="#999" stroke-width="1.100"/>
<path d="M160.800 729V775" stroke="#333" stroke-width="1.200"/>
<path class="br" d="M205.700 687V700.700L187.600 710.900V749.500" stroke-width="1.200"/>
<!-- plate upper surface nose lines -->
<path class="l" d="M72.300 800.800 L84.600 789.500 L92.800 787.400"/>
<!-- lower body internal contours -->
<path class="l" d="M260.300 827.900 Q240 838 222 851 Q196 870 175.800 886.200 Q158 902 143.700 921.200 L137.500 931"/>
<path class="l" d="M263.200 890.600 L204.900 918.300 L161.200 938.700 L126.200 954.700"/>
<path class="l" d="M88.300 947.400 Q104 943 120.400 935.800"/>
<path class="l" d="M83.900 935.800 Q81.500 943 82 948"/>
<path class="l" d="M88.300 830.800 L96 833.500 M178 821 Q200 828 230 822 L259.400 821" stroke-width="0"/>
<!-- dotted -->
<path d="M254.500 819.200 L129.100 890.600" stroke="#333" stroke-width="1.300" stroke-dasharray="1.500 2.500" fill="none"/>
<path d="M92.700 921.200 L120.400 935.800" stroke="#333" stroke-width="1.300" stroke-dasharray="1.500 2.500" fill="none"/>
<path d="M108 764 L84 777 M84 777 L51.500 809.500" stroke="#333" stroke-width="0" fill="none"/>
<!-- anode -->
<path class="w" d="M122.700 922.700 L136.400 915.900 L137.900 946 L123.300 951.800Z" stroke-width="1.500"/>
<path class="l" d="M131.500 920.500 L132.300 943.500 M126.500 935 L126.800 945 L131 943.500" stroke-width="1.200"/>
</g>
<!--MISC LEFT-->
<g id="misc">
<!-- key piece -->
<path d="M197.700 663.600 L200.700 663.600 L210.500 669.700 L218.800 673.400 Q222.500 676 223 679.500 Q223 681.500 221.900 682.500 L214.300 687.400 Q212.500 687.500 211.300 686.700 L205.200 683.300 L203 679.500 L199.900 679.100 L192.400 675.700 Q190 674.500 190.500 672.700 Q190.800 671 192 670 L196.200 668.100 L196.900 665.100Z" fill="#fefefe" stroke="#111" stroke-width="2" stroke-linejoin="round"/>
<path d="M197.700 667.800 L220.400 681" stroke="#111" stroke-width="1.300"/>
<!-- plug upper -->
<g transform="translate(59.500 733.500)">
<path d="M-7 -2 Q-7 -6.500 -1 -7 Q5 -7 7 -3 Q8 2 5 5.500 Q0 8 -4 6 Q-7 3 -7 -2Z" fill="#fefefe" stroke="#111" stroke-width="1.500"/>
<path d="M-4 -4 Q0 -6 4 -3 M-5 -1 Q0 -3 5 0 M-4 2 Q0 0 5 3 M-2 -6.500 L-3 5.500 M2 -6 L1.500 6.500 M-7 -1 L-9.500 0.500 M-5 -5 L-7 -6.500" stroke="#111" stroke-width="1.300" fill="none"/>
</g>
<!-- oring 16 a -->
<g transform="translate(76.200 743.600) rotate(-50)"><ellipse cx="0" cy="0" rx="8" ry="4" fill="none" stroke="#111" stroke-width="2.400"/></g>
<path d="M65.100 759.300L71.600 751.700" stroke="#111" stroke-width="2"/>
<path class="l" d="M81 747L110.500 763.600" stroke-width="1.300"/>
<!-- bushing -->
<path class="w" d="M45.800 789 V794 A6.400 3.600 0 0 0 58.600 794 V789" stroke-width="1.500"/>
<ellipse class="w" cx="52.200" cy="789" rx="6.400" ry="3.800" stroke-width="1.500"/>
<ellipse class="w" cx="52.200" cy="789.300" rx="3.800" ry="2" stroke-width="1.200"/>
<path class="br" d="M51.600 800.300V808.400L104.800 778.900"/>
<!-- drain plug lower -->
<g transform="translate(52 897)">
<path d="M-9 -2 Q-9 -7 -3 -7.500 Q2 -7.500 3.500 -3 L9 -0.500 Q10.500 2 9 4.500 L5 6.500 L3 4 Q0 8 -5 6 Q-9 3 -9 -2Z" fill="#fefefe" stroke="#111" stroke-width="1.500"/>
<path d="M-6 -4 Q-2 -6 2 -3 M-7 -1 Q-2 -3 3 0 M-6 2.500 Q-2 0 3 3 M-4 -7 L-5 5.500 M0 -7 L-0.500 6.500 M4 -1 L3 5 M6.500 0 L5.500 6 M-9 -1 L-10.500 2 L-8.500 6.500" stroke="#111" stroke-width="1.300" fill="none"/>
</g>
<g transform="translate(69.400 908.500) rotate(-55)"><ellipse cx="0" cy="0" rx="8" ry="4.200" fill="none" stroke="#111" stroke-width="2.400"/></g>
<path d="M58.100 924.700L64.600 916.600" stroke="#111" stroke-width="2"/>
<path class="l" d="M76.400 911.700L86.200 916.600" stroke-width="1.300"/>
</g>
<g id="refbox">
<rect x="584.2" y="764.8" width="311" height="236" fill="#fefefe" stroke="#86878a" stroke-width="2.800"/>
<rect x="584" y="763.6" width="312.500" height="18.200" fill="#8d8e91"/>
<rect x="585.6" y="781.8" width="307.800" height="17.700" fill="#dcdddf"/>
<rect x="582.8" y="763.6" width="1.600" height="238.500" fill="#5e5e60"/>
<text x="587.6" y="778.3" font-family="Liberation Sans, sans-serif" font-weight="bold" font-size="12.200px" fill="#fff" textLength="21.500" lengthAdjust="spacingAndGlyphs">Ref.</text>
<text x="746" y="778.3" font-family="Liberation Sans, sans-serif" font-weight="bold" font-size="12.200px" fill="#fff" textLength="22.500" lengthAdjust="spacingAndGlyphs">R.O.</text>
<text x="587.6" y="796" font-family="Liberation Sans, sans-serif" font-weight="bold" font-size="15.600px" fill="#111" textLength="66.300" lengthAdjust="spacingAndGlyphs">GLM12068</text>
<text x="746" y="795.8" font-family="Liberation Sans, sans-serif" font-size="15.800px" fill="#1a1a1a" textLength="89" lengthAdjust="spacingAndGlyphs">60X-W0078-00</text>
<text x="648" y="956.7" font-family="Liberation Sans, sans-serif" font-size="16.200px" fill="#151515" textLength="181.800" lengthAdjust="spacingAndGlyphs">Kit reparación Bomba agua</text>
<text x="688.3" y="975.3" font-family="Liberation Sans, sans-serif" font-size="16.200px" fill="#2d3c8e" textLength="100.500" lengthAdjust="spacingAndGlyphs">Water Pump kit</text>
<text x="642.7" y="993.4" font-family="Liberation Sans, sans-serif" font-size="16.200px" fill="#1f9a4c" textLength="191.700" lengthAdjust="spacingAndGlyphs">Kit riparazione Pompa acqua</text>
<!-- photo -->
<g filter="url(#b05)">
<!-- wear plate -->
<path d="M645.400 874.100 L647.800 857.500 L652.600 845.600 L684.600 843.300 L691.800 848 L710.800 857.500 L712 863.500 L698.900 874.100 L684.600 877.700 L670.400 878.900 L653.800 877.700Z" fill="#b4b7c0"/>
<path d="M648 872 L650 858 L654 848 L684 845.500 L690 850" fill="none" stroke="#d4d6dc" stroke-width="1.500"/>
<circle cx="665.6" cy="858.700" r="2.800" fill="#fefefe"/>
<path d="M671 851.500 Q675 856 672 863.500" fill="none" stroke="#fefefe" stroke-width="2"/>
<path d="M690.200 855.500 L691 862.500" fill="none" stroke="#fefefe" stroke-width="2.200"/>
<g fill="#eef"><circle cx="654.5" cy="848.500" r="1"/><circle cx="684" cy="846" r="1"/><circle cx="708.500" cy="859.500" r="1.100"/><circle cx="697.500" cy="872.500" r="1"/><circle cx="670" cy="876.500" r="1"/><circle cx="649.500" cy="871.500" r="1.100"/></g>
<!-- cup -->
<path d="M713.200 834 V871 A14 6.500 0 0 0 741.200 871 V834Z" fill="#c4c4c4"/>
<path d="M713.200 834 V871 Q715 874.500 719 876 V838Z" fill="#aaaaac"/>
<path d="M734 839 V877 Q740 875 741.200 871 V834Z" fill="#a2a2a4"/>
<path d="M721 840 V877 L728 877.600 V840Z" fill="#e2e2e2"/>
<path d="M713.200 848 A14 6 0 0 0 741.200 848 V851 A14 6 0 0 1 713.200 851Z" fill="#9c9c9e"/>
<ellipse cx="727.2" cy="834" rx="14" ry="6.200" fill="#b8b8ba"/>
<ellipse cx="727.2" cy="833.500" rx="12" ry="5" fill="#c9c9cb"/>
<ellipse cx="724.500" cy="834.500" rx="4" ry="2.800" fill="#3c3c40"/>
<ellipse cx="730" cy="845" rx="2" ry="1" fill="#eee"/>
<!-- impeller -->
<path d="M757.100 829.100 L760.500 833.600 L767.900 833.600 L771.900 829.100 L772.400 838.100 L780.900 837 L781.500 857.400 L773.600 858.600 L774.100 875.600 L770.200 872.200 L766.800 866.500 L762.200 867.600 L759.400 873.300 L755.400 875.600 L756 859.100 L748 858.600 L747.500 838.700 L756.500 837.600Z" fill="#1d1d1f"/>
<ellipse cx="763.900" cy="838.300" rx="3.300" ry="2.800" fill="#0a0a0a"/>
<path d="M757 843 L760 858 M771 843 L768 858 M752 842 L752 856 M777 841 L777 855" stroke="#3c3c42" stroke-width="1.300" fill="none"/>
<!-- housing cream -->
<path d="M814.400 827.900 L822.300 827.400 L823.400 848.300 L824.600 865.400 L831.400 874.400 L830.300 890.300 L825.700 901.600 L824.600 911.900 L814.400 925.500 L807.600 922.100 L795.100 907.300 L787.200 890.300 L784.900 879 L794 865.400 L803 849.500 L805.300 840.400 L813.200 840.400Z" fill="#e8ebd6"/>
<path d="M814.400 827.900 L818 827.600 L819 850 L820 866 L812 868 L813.200 840.400Z" fill="#f4f6ea"/>
<path d="M824.600 865.400 L831.400 874.400 L830.300 890.300 L825.700 901.600 L824.600 911.900 L814.400 925.500 L812 918 L819 900 L822 880Z" fill="#d3d7ba"/>
<path d="M805.300 840.400 L813.200 840.400 L812 868 L806 880 L800 878 L794 865.400 L803 849.500Z" fill="#eef0e0"/>
<path d="M787.200 890.300 L784.900 879 L794 865.400 L800 878 L806 880 L808 900 L807.600 922.100 L795.100 907.300Z" fill="#e2e5cc"/>
<path d="M797 880 Q806 886 815 882 M800 893 Q808 898 818 893" stroke="#cdd1b3" stroke-width="1.600" fill="none"/>
<path d="M808 855 L809 875 M816 870 L814 905" stroke="#f8f9f0" stroke-width="2" fill="none"/>
<!-- slats -->
<g fill="#9b9ca2">
<path d="M657 889 L678.700 884.500 L678.700 891 L657 895.500Z"/><path d="M655 897.500 L677 893 L677 899.500 L655 904Z"/><path d="M653.500 906 L676 901.500 L676 908 L653.500 912.500Z"/><path d="M652 914.500 L675 910 L675 916.500 L652 921Z"/>
</g>
<path d="M657.500 884 V921 M666 884 V919 M674 883.500 V917" stroke="#77787e" stroke-width="1.300"/>
<path d="M651.400 888 V920.500" stroke="#8a8b90" stroke-width="1.500"/>
<!-- gasket -->
<path d="M680.500 922 L680 905 L683.500 893.500 L691 888 L713 887 L716 890 L727 888.500 L732 891.500 L741 899.500 L745.500 905.500 L741 909.500 L736 915 L730 920.500 L722 924.500 L705 926 L690 925.500Z" fill="none" stroke="#505156" stroke-width="2" stroke-linejoin="round"/>
<path d="M685 919 L684.500 905 L687.500 897 L693 892.500 L710 892 Q716.500 894 716.500 900 Q715.500 906 718.500 910.500 Q721 915 718 920 L705 922 L690 921.500Z" fill="none" stroke="#505156" stroke-width="1.500" stroke-linejoin="round"/>
<ellipse cx="728.500" cy="900" rx="7.200" ry="6.200" fill="none" stroke="#505156" stroke-width="2.200"/>
<path d="M735 903 L742 905 M731 907 L736 914 M721.500 897 L716.500 898" stroke="#505156" stroke-width="1.500"/>
<g fill="#505156"><circle cx="682" cy="922" r="1.800"/><circle cx="682" cy="905" r="1.600"/><circle cx="691" cy="889" r="1.700"/><circle cx="714" cy="888" r="1.700"/><circle cx="743.500" cy="905.500" r="2"/><circle cx="730" cy="920.500" r="1.700"/><circle cx="705" cy="925.500" r="1.700"/></g>
<!-- pins, key -->
<rect x="737.300" y="881.200" width="4.600" height="5" fill="#55565c"/><rect x="745.800" y="881.200" width="5" height="5" fill="#55565c"/>
<path d="M737.300 883.700H750.800" stroke="#ddd" stroke-width="0.800"/>
<path d="M765.200 873.900 Q763 879.500 764 885.800" stroke="#2a2a2e" stroke-width="2.200" fill="none"/>
<!-- orings -->
<circle cx="766.200" cy="905" r="14.800" fill="none" stroke="#2c2c30" stroke-width="1.500"/>
<circle cx="766.200" cy="905" r="7.200" fill="none" stroke="#1c1c20" stroke-width="2"/>
</g>
</g>

<!--PARTS-->
<!--LABELS-->
<g id="labels">
<text class="lab" x="370.500" y="59.300">4</text><path class="dash" d="M348.5 55.700H359.900"/>
<text class="lab" x="370.500" y="81.800">5</text><path class="dash" d="M348.500 74.600H359.900"/>
<text class="lab" x="253.5" y="105.2">3</text><path class="dash" d="M270.4 100H277.5"/>
<text class="lab" x="384.5" y="134.8">6</text><path class="dash" d="M363.5 128.7H375.5"/>
<text class="lab" x="385.5" y="176">7</text><path class="dash" d="M351 171.2H374.6"/>
<text class="lab" x="254.5" y="182.4">8</text><path class="dash" d="M271.6 181.7H301"/>
<text class="lab" x="254.5" y="210.3">9</text><path class="dash" d="M271.6 204.7H288.5"/>
<text class="lab" x="368" y="335">10</text><path class="dash" d="M347.500 328.300H365"/>
<text class="lab" x="369" y="379.6">11</text><path class="dash" d="M348.500 374.500H365"/>
<text class="lab" x="384.5" y="432.2">12</text><path class="dash" d="M368 430.2H379.6"/>
<text class="lab" x="374" y="475">13</text><path class="dash" d="M354.2 471.7H369"/>
<text class="lab lab2" x="215.5" y="575.8">14</text><path class="dash" d="M196.7 571.3H211.4"/>
<text class="lab lab2" x="104.3" y="153.1">15</text>
<text class="lab lab2" x="44.2" y="773.8">16</text>
<text class="lab lab2" x="42" y="944.3">16</text>
</g>
</g>
</svg>
</body></html>
